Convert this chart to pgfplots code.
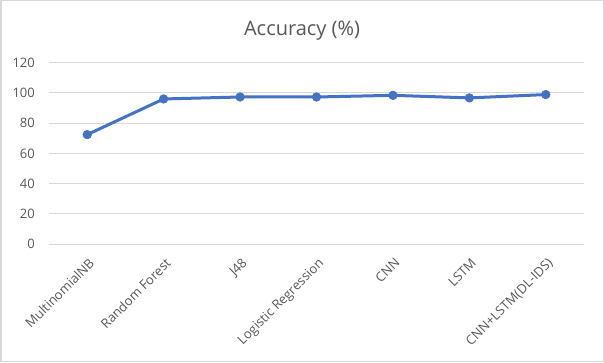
\documentclass[border=0pt]{standalone}
\usepackage{pgfplots}
\pgfplotsset{compat=1.18}
\usepackage{fontspec}
\setmainfont{Open Sans}
\definecolor{linec}{HTML}{4472C4}
\definecolor{gridc}{HTML}{D9D9D9}
\definecolor{textc}{HTML}{595959}
\begin{document}
\begin{tikzpicture}[x=1bp,y=1bp]
\fill[white] (0,0) rectangle (604,362);
\begin{axis}[
  at={(49bp,118bp)}, anchor=south west,
  scale only axis, width=535bp, height=181.3bp,
  xmin=-0.5, xmax=6.5, ymin=0, ymax=120,
  ytick={0,20,...,120},
  xtick={0,...,6},
  xticklabels={MultinomialNB,Random Forest,J48,Logistic Regression,CNN,LSTM,CNN+LSTM(DL-IDS)},
  x tick label style={yshift=-13bp, xshift=1bp, rotate=45, anchor=north east, font=\fontsize{13bp}{15bp}\selectfont, text=textc, inner sep=0bp},
  y tick label style={font=\fontsize{13bp}{15bp}\selectfont, text=textc, inner sep=0bp, xshift=-14bp},
  /pgf/number format/assume math mode=true,
  axis line style={draw=none},
  major tick length=0pt,
  ymajorgrids, grid style={gridc, line width=1bp},
  title={Accuracy (\%)},
  title style={font=\fontsize{20bp}{24bp}\selectfont, text=textc, at={(0.473,1)}, anchor=south, yshift=16bp, inner sep=0pt},
  clip=false,
]
\addplot[linec, line width=3bp, mark=*, mark size=4.3bp, mark options={solid, fill=linec, draw=linec, line width=0.6bp}]
coordinates {(0,72.4) (1,96.0) (2,97.3) (3,97.3) (4,98.4) (5,96.7) (6,98.9)};
\end{axis}
\draw[gridc, line width=1.5bp] (0.75,0.75) rectangle (603.25,361.25);
\end{tikzpicture}
\end{document}
